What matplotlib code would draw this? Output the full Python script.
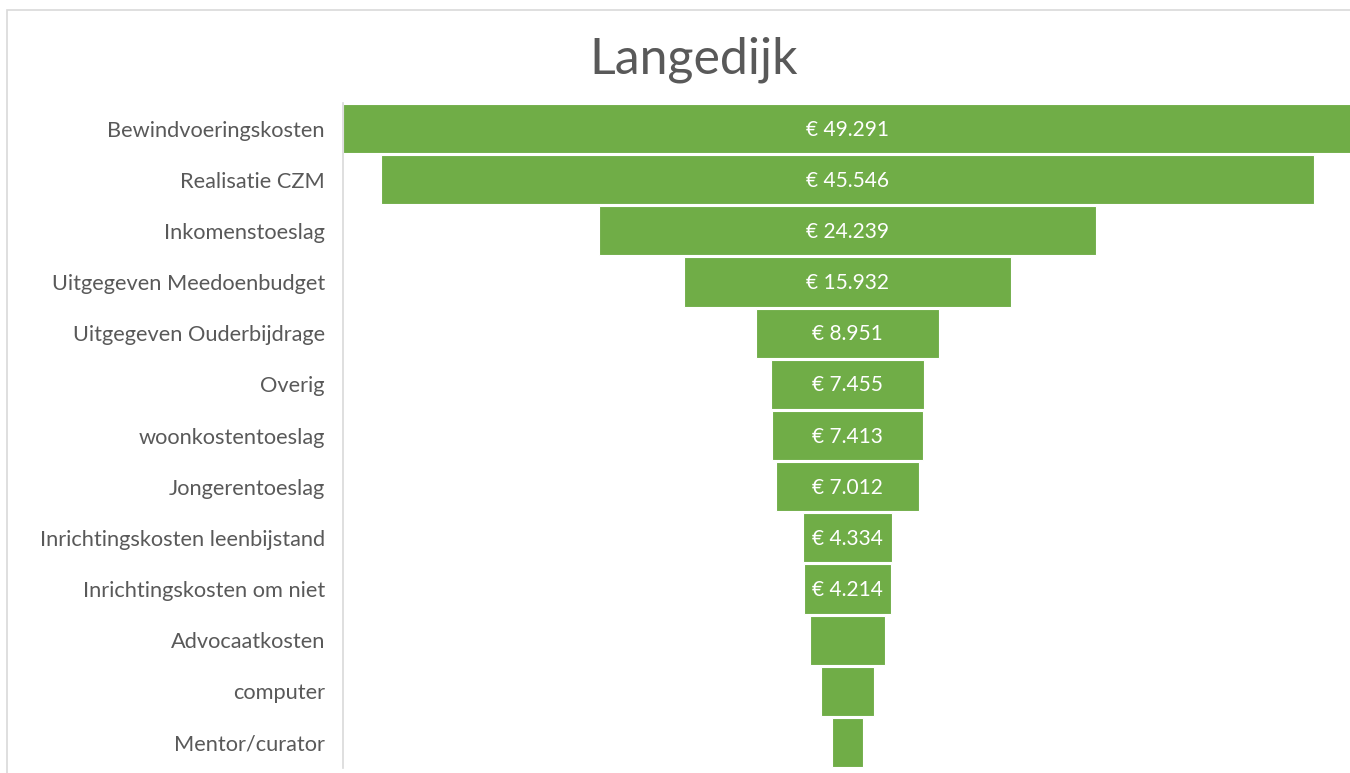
import matplotlib
matplotlib.use("Agg")
import matplotlib.pyplot as plt
from matplotlib.patches import Rectangle

categories = ["Bewindvoeringskosten", "Realisatie CZM", "Inkomenstoeslag",
              "Uitgegeven Meedoenbudget", "Uitgegeven Ouderbijdrage", "Overig",
              "woonkostentoeslag", "Jongerentoeslag", "Inrichtingskosten leenbijstand",
              "Inrichtingskosten om niet", "Advocaatkosten", "computer", "Mentor/curator"]
values = [49291, 45546, 24239, 15932, 8951, 7455, 7413, 7012, 4334, 4214, 3690, 2580, 1490]
n_labeled = 10
title = "Langedijk"

bar_color = "#70AD47"
text_color = "#595959"
font = ["Lato", "DejaVu Sans"]

fig = plt.figure(figsize=(13.5, 7.73), dpi=100)
fig.patch.set_facecolor("white")

# outer chart frame
fig.patches.append(Rectangle((7 / 1350, -0.01), 1.0, 1 - 10 / 773 + 0.01,
                             transform=fig.transFigure, fill=False,
                             edgecolor="#D9D9D9", linewidth=1.2))

ax = fig.add_axes([343 / 1350, 5 / 773, (1352 - 343) / 1350, (768 - 103) / 773])
n = len(categories)
ys = list(range(n))
lefts = [-v / 2 for v in values]
ax.barh(ys, values, left=lefts, height=0.96, color=bar_color,
        edgecolor="white", linewidth=0.8)

def fmt(v):
    return "€ " + f"{v:,}".replace(",", ".")

for i, v in enumerate(values[:n_labeled]):
    ax.text(0, i + 0.02, fmt(v), ha="center", va="center", color="white",
            fontsize=15, family=font)

half = max(values) / 2
ax.set_xlim(-half, half)
ax.set_ylim(n - 0.5, -0.5)
ax.set_yticks(ys)
ax.set_yticklabels(categories, family=font, fontsize=15.7, color=text_color)
ax.tick_params(axis="y", length=0, pad=13)
ax.set_xticks([])
for s in ["top", "right", "bottom"]:
    ax.spines[s].set_visible(False)
ax.spines["left"].set_color("#D9D9D9")
ax.spines["left"].set_linewidth(1.2)

fig.text(694 / 1350, 1 - 60 / 773, title, ha="center", va="center",
         fontsize=36, color=text_color, family=["Lato", "DejaVu Sans"],
         fontweight="normal")

fig.savefig("out.png", dpi=100)
